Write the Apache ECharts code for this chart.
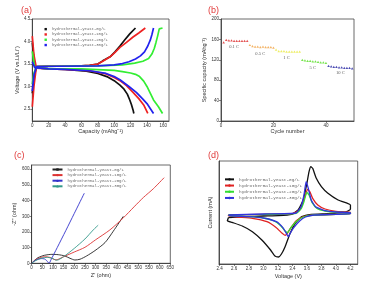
<!DOCTYPE html>
<html><head><meta charset="utf-8">
<script src="https://cdn.jsdelivr.net/npm/echarts@6/dist/echarts.min.js"></script>
<style>html,body{margin:0;padding:0;background:#fff}#c{width:389px;height:282px}</style>
</head><body><div id="c"></div>
<script>
// ---------- DATA ----------
const legendNames = ['hydrothermal-yeast-0g/L','hydrothermal-yeast-10g/L','hydrothermal-yeast-20g/L','hydrothermal-yeast-30g/L'];
// (a) charge / discharge  [capacity mAh/g, voltage V]
const aChargeBlack = [[0,2.85],[2,3.2],[5,3.44],[20,3.45],[50,3.45],[70,3.47],[80,3.5],[86,3.57],[95,3.66],[101,3.77],[107,3.9],[113,4.04],[119,4.17],[126,4.3]];
const aChargeRed = [[0,2.55],[2,3.0],[5,3.44],[20,3.45],[50,3.45],[70,3.47],[80,3.5],[86,3.56],[95,3.66],[101,3.76],[107,3.87],[115,3.98],[123,4.1],[130,4.19],[138,4.3]];
const aChargeGreen = [[0,3.05],[2,3.3],[5,3.44],[30,3.45],[80,3.46],[110,3.48],[125,3.52],[135,3.56],[142,3.62],[146,3.72],[149,3.85],[151,3.98],[153,4.12],[155,4.28],[156,4.3],[159,4.3]];
const aChargeBlue = [[0,2.9],[2,3.25],[5,3.44],[30,3.45],[80,3.46],[100,3.48],[110,3.51],[118,3.55],[126,3.61],[132,3.68],[137,3.77],[141,3.9],[144,4.03],[146,4.15],[148,4.3]];
const aDisBlack = [[0,3.98],[2,3.6],[4,3.42],[20,3.39],[40,3.38],[66,3.34],[80,3.29],[91,3.22],[100,3.13],[107,3.03],[112,2.94],[116,2.83],[119,2.7],[121,2.6],[123,2.48],[124,2.4]];
const aDisRed = [[0,4.12],[2,3.7],[5,3.41],[20,3.39],[40,3.38],[70,3.35],[90,3.28],[100,3.2],[107,3.13],[115,3.02],[123,2.87],[130,2.73],[136,2.59],[141,2.4]];
const aDisGreen = [[0,3.78],[3,3.42],[20,3.39],[60,3.39],[100,3.36],[110,3.33],[120,3.3],[126,3.27],[131,3.22],[136,3.12],[140,3.0],[144,2.85],[148,2.7],[154,2.55],[159,2.4]];
const aDisBlue = [[0,3.55],[3,3.42],[20,3.39],[40,3.38],[70,3.35],[90,3.29],[100,3.22],[107,3.15],[118,3.0],[127,2.87],[135,2.72],[140,2.62],[148,2.4]];
const aXTicks = [0,20,40,60,80,100,120,140,160];
const aYTicks = [2.5,3.0,3.5,4.0,4.5];

// (b) rate capability
const bCycles01 = [1,2,3,4,5,6,7,8,9,10];
const bCap01 = [154,159,158,158,157,157,157,157,157,157];
const bCycles05 = [11,12,13,14,15,16,17,18,19,20];
const bCap05 = [149,147,146,146,145,146,145,145,145,144];
const bCycles1 = [21,22,23,24,25,26,27,28,29,30];
const bCap1 = [140,137,137,137,136,136,136,136,136,136];
const bCycles5 = [31,32,33,34,35,36,37,38,39,40];
const bCap5 = [120,119,118,118,117,117,116,115,115,114];
const bCycles10 = [41,42,43,44,45,46,47,48,49,50];
const bCap10 = [108,107,106,106,105,105,104,104,104,103];
const bRateNames = ['0.1 C','0.5 C','1 C','5 C','10 C'];
const bRateLabelPos = [[5,145],[15,131],[25,123],[35,104],[45.5,94]];
const bXTicks = [0,20,40];
const bYTicks = [0,40,80,120,160,200];

// (c) Nyquist  [Z', -Z'']
const cBlack = [[0,0],[15,20],[30,36],[60,51],[95,57],[125,55],[155,47],[180,32],[203,21],[227,26],[258,47],[297,81],[344,132],[383,205],[430,300]];
const cRed = [[0,0],[15,20],[35,33],[60,42],[85,38],[105,25],[115,22],[150,42],[200,72],[250,102],[300,150],[367,213],[430,290],[480,360],[524,420],[570,475],[621,546]];
const cBlue = [[0,0],[10,12],[25,24],[45,30],[60,28],[70,18],[78,5],[82,0],[90,20],[120,100],[160,208],[200,318],[247,447]];
const cTeal = [[0,0],[20,18],[45,32],[75,38],[100,30],[115,20],[125,22],[150,42],[200,95],[250,155],[289,213],[312,243]];
const cXTicks = [0,50,100,150,200,250,300,350,400,450,500,550,600,650];
const cYTicks = [0,100,200,300,400,500,600];

// (d) CV  [V, current]
const dBlack = [[2.519,-0.8],[2.755,-0.5],[3.0,-0.3],[3.21,-0.2],[3.39,0.2],[3.48,1.5],[3.55,4.5],[3.6,9.5],[3.63,13],[3.655,14.5],[3.68,14],[3.73,11],[3.8,8.5],[3.89,6.5],[4.03,4.5],[4.16,3.5],[4.2,3.0],[4.2,1.7],[4.12,0.8],[3.89,0.4],[3.66,0.2],[3.53,-0.5],[3.44,-2.5],[3.37,-5.5],[3.3,-9.5],[3.25,-11.7],[3.21,-12.6],[3.16,-12.3],[3.1,-10.5],[2.98,-7.5],[2.85,-5],[2.71,-3.3],[2.57,-2.2],[2.505,-1.7],[2.519,-0.8]];
const dRed = [[2.52,0],[3.0,0.2],[3.4,0.4],[3.5,1.5],[3.55,4],[3.58,6],[3.61,7.7],[3.64,7],[3.68,5],[3.75,3],[3.85,1.8],[4.0,1.1],[4.2,0.8],[4.2,0.4],[4.0,0.2],[3.7,0],[3.55,-0.5],[3.45,-1.8],[3.38,-3.8],[3.33,-5.5],[3.3,-6.1],[3.26,-5.5],[3.18,-3.8],[3.05,-2],[2.85,-1],[2.52,-0.3],[2.52,0]];
const dGreen = [[2.52,0],[3.0,0.2],[3.45,0.5],[3.52,1.8],[3.56,4],[3.6,6.8],[3.63,6],[3.67,3.8],[3.74,2],[3.85,1.2],[4.0,0.8],[4.2,0.7],[4.2,0.4],[4.0,0.2],[3.7,0],[3.55,-0.6],[3.45,-2],[3.38,-3.8],[3.33,-5.3],[3.3,-4.8],[3.24,-3.2],[3.15,-1.8],[3.0,-0.9],[2.8,-0.5],[2.52,-0.2],[2.52,0]];
const dBlue = [[2.52,0],[3.0,0.3],[3.45,0.6],[3.52,2.5],[3.56,6],[3.59,10],[3.62,8],[3.66,4.5],[3.72,2.5],[3.85,1.3],[4.0,0.9],[4.2,0.7],[4.2,0.4],[4.0,0.2],[3.7,0],[3.58,-0.6],[3.5,-1.8],[3.42,-3.8],[3.37,-5.5],[3.345,-6.5],[3.32,-5.6],[3.27,-3.8],[3.18,-2],[3.0,-0.9],[2.8,-0.5],[2.52,-0.2],[2.52,0]];
const dXTicks = [2.4,2.6,2.8,3.0,3.2,3.4,3.6,3.8,4.0,4.2];

// ---------- CHART ----------
const chart = echarts.init(document.getElementById('c'), null, {renderer:'canvas'});
const axisCol = '#333';
const lblStyle = {fontSize:4.5, color:'#333', fontFamily:'Liberation Sans', margin:2};
const nameStyle = {fontSize:5.5, color:'#333', fontFamily:'Liberation Sans'};
function xAx(g, min, max, ticks, name, gap, fmt){
  return {type:'value', gridIndex:g, min:min, max:max, name:name, nameLocation:'middle', nameGap:gap, nameTextStyle:nameStyle,
    axisLine:{show:true, onZero:false, lineStyle:{color:axisCol, width:0.8}},
    axisTick:{show:true, length:2, lineStyle:{color:axisCol, width:0.6}, customValues:ticks},
    axisLabel:Object.assign({customValues:ticks, formatter:fmt||undefined}, lblStyle),
    splitLine:{show:false}};
}
function yAx(g, min, max, ticks, name, gap, fmt, showLabels){
  return {type:'value', gridIndex:g, min:min, max:max, name:name, nameLocation:'middle', nameGap:gap, nameTextStyle:nameStyle,
    axisLine:{show:true, onZero:false, lineStyle:{color:axisCol, width:0.8}},
    axisTick:{show:showLabels!==false, length:2, lineStyle:{color:axisCol, width:0.6}, customValues:ticks||undefined},
    axisLabel:Object.assign({show:showLabels!==false, customValues:ticks||undefined, formatter:fmt||undefined}, lblStyle),
    splitLine:{show:false}};
}
const f1 = v => v.toFixed(1);
const gridBase = {show:true, borderColor:'#444', borderWidth:0.8, containLabel:false};

const aCol = ['#111111','#ee2222','#33ee33','#2222ee'];
const cCol = ['#222222','#dd3333','#3333cc','#33998a'];
const dCol = ['#111111','#e02222','#33dd33','#3333dd'];
const bCol = ['#dd2a2a','#f0a040','#eaea40','#55dd22','#2020a0'];

function lineS(name, data, color, xi, width, extra){
  return Object.assign({type:'line', name:name, data:data, xAxisIndex:xi, yAxisIndex:xi, showSymbol:false, symbol:'none',
    lineStyle:{color:color, width:width}, itemStyle:{color:color}, silent:true, animation:false}, extra||{});
}
const series = [];
const aC = [aChargeBlack, aChargeRed, aChargeGreen, aChargeBlue];
const aD = [aDisBlack, aDisRed, aDisGreen, aDisBlue];
for (let i=0;i<4;i++){
  series.push(lineS('a'+i, aC[i], aCol[i], 0, 1.7));
  series.push(lineS('a'+i, aD[i], aCol[i], 0, 1.7));
}
const bC = [bCycles01,bCycles05,bCycles1,bCycles5,bCycles10];
const bV = [bCap01,bCap05,bCap1,bCap5,bCap10];
for (let i=0;i<5;i++){
  series.push({type:'scatter', name:'b'+i, xAxisIndex:1, yAxisIndex:1, symbol:'triangle', symbolSize:[2.6,2.2],
    itemStyle:{color:bCol[i]}, data:bC[i].map((c,k)=>[c,bV[i][k]]), animation:false, silent:true});
}
series.push({type:'scatter', name:'bLabels', xAxisIndex:1, yAxisIndex:1, symbolSize:0, animation:false, silent:true,
  data:bRateNames.map((n,k)=>({name:n, value:bRateLabelPos[k]})),
  label:{show:true, position:'inside', formatter:p=>p.name, fontSize:4.6, color:'#333', fontFamily:'Liberation Serif'}});
const cD = [cBlack, cRed, cBlue, cTeal];
const cSym = ['rect','circle','triangle','triangle'];
for (let i=0;i<4;i++){
  series.push(lineS('c'+i, cD[i], cCol[i], 2, 0.9, {symbol:cSym[i], symbolSize:2.2, smooth:0.25}));
}
const dD = [dBlack, dRed, dGreen, dBlue];
for (let i=0;i<4;i++){
  series.push(lineS('d'+i, dD[i], dCol[i], 3, 1.3, {smooth:0.15}));
}
const legFmt = n => legendNames[+n.slice(1)];
const legText = (fs)=>({fontFamily:'Liberation Mono', fontSize:fs, color:'#666', padding:0});

const option = {
  backgroundColor:'#fff',
  animation:false,
  title:[
    {text:'(a)', left:16, top:1, textStyle:{color:'#e03a3a', fontSize:9, fontWeight:'normal', fontFamily:'Liberation Sans'}},
    {text:'(b)', left:203, top:1, textStyle:{color:'#e03a3a', fontSize:9, fontWeight:'normal', fontFamily:'Liberation Sans'}},
    {text:'(c)', left:9, top:146, textStyle:{color:'#e03a3a', fontSize:9, fontWeight:'normal', fontFamily:'Liberation Sans'}},
    {text:'(d)', left:203, top:146, textStyle:{color:'#e03a3a', fontSize:9, fontWeight:'normal', fontFamily:'Liberation Sans'}}
  ],
  grid:[
    Object.assign({left:32.3, top:19, width:136.7, height:102}, gridBase),
    Object.assign({left:221, top:19, width:133, height:102}, gridBase),
    Object.assign({left:31.6, top:165, width:138.7, height:98.3}, gridBase),
    Object.assign({left:219, top:161, width:138.7, height:103}, gridBase)
  ],
  xAxis:[
    xAx(0, 0, 166.9, aXTicks, 'Capacity (mAhg⁻¹)', 7),
    xAx(1, 0, 50.7, bXTicks, 'Cycle number', 7),
    xAx(2, 0, 650, cXTicks, "Z' (ohm)", 9.5),
    xAx(3, 2.39, 4.3, dXTicks, 'Voltage (V)', 9, f1)
  ],
  yAxis:[
    yAx(0, 2.233, 4.5, aYTicks, 'Voltage (V vs.Li/Li⁺)', 11, f1),
    yAx(1, 0, 200, bYTicks, 'Specific capacity (mAhg⁻¹)', 13),
    yAx(2, 0, 627, cYTicks, "-Z'' (ohm)", 14),
    yAx(3, -14.7, 16.2, null, 'Current (mA)', 6, null, false)
  ],
  legend:[
    {data:['a0','a1','a2','a3'].map(n=>({name:n, icon:'rect'})), formatter:legFmt, orient:'vertical', left:44.5, top:27,
      itemWidth:2.4, itemHeight:2.4, itemGap:1, padding:0, textStyle:Object.assign(legText(3.9),{lineHeight:4.3}), selectedMode:false},
    {data:['c0','c1','c2','c3'], formatter:legFmt, orient:'vertical', left:51.5, top:167.3,
      itemWidth:10, itemHeight:3, itemGap:1.2, padding:0, textStyle:Object.assign(legText(4.1),{lineHeight:4.4}), selectedMode:false},
    {data:['d0','d1','d2','d3'], formatter:legFmt, orient:'vertical', left:224, top:177,
      itemWidth:9, itemHeight:3, itemGap:1.5, padding:0, textStyle:Object.assign(legText(4.4),{lineHeight:4.7}), selectedMode:false}
  ],
  series:series
};
chart.setOption(option);
</script></body></html>
